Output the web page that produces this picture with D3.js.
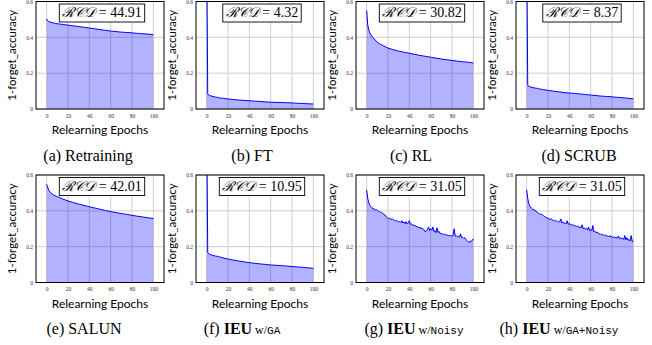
<!DOCTYPE html>
<html>
<head>
<meta charset="utf-8">
<script src="https://cdn.jsdelivr.net/npm/d3@7"></script>
<style>
  body { margin: 0; background: #fff; }
</style>
</head>
<body>
<svg id="chart" width="652" height="345"></svg>
<script>
// sampled epochs for the smooth curves
const epochs = [0, 1, 2, 3, 4, 5, 6, 8, 10, 12, 15, 20, 25, 30, 35, 40, 45, 50, 55, 60, 65, 70, 75, 80, 85, 90, 95, 100];
// every epoch for the noisy curves
const allEpochs = d3.range(0, 101);

const retraining = [0.503, 0.492, 0.488, 0.486, 0.484, 0.482, 0.481, 0.478, 0.476, 0.474, 0.472, 0.468, 0.464, 0.460, 0.456, 0.452, 0.448, 0.443, 0.439, 0.435, 0.432, 0.429, 0.427, 0.425, 0.422, 0.420, 0.418, 0.415];
const ft = [0.95, 0.085, 0.078, 0.075, 0.073, 0.071, 0.070, 0.067, 0.065, 0.062, 0.060, 0.056, 0.053, 0.050, 0.048, 0.046, 0.044, 0.042, 0.040, 0.038, 0.037, 0.036, 0.035, 0.034, 0.032, 0.031, 0.029, 0.028];
const rl = [0.55, 0.47, 0.44, 0.425, 0.415, 0.405, 0.398, 0.385, 0.372, 0.365, 0.355, 0.340, 0.331, 0.323, 0.317, 0.311, 0.305, 0.299, 0.294, 0.289, 0.284, 0.279, 0.275, 0.271, 0.267, 0.264, 0.261, 0.257];
const scrub = [0.95, 0.135, 0.127, 0.124, 0.122, 0.120, 0.119, 0.117, 0.115, 0.112, 0.109, 0.104, 0.100, 0.096, 0.092, 0.089, 0.087, 0.084, 0.081, 0.078, 0.075, 0.072, 0.070, 0.068, 0.065, 0.063, 0.060, 0.057];
const salun = [0.548, 0.53, 0.515, 0.505, 0.50, 0.495, 0.49, 0.484, 0.479, 0.474, 0.466, 0.455, 0.446, 0.438, 0.430, 0.423, 0.416, 0.409, 0.402, 0.396, 0.390, 0.385, 0.380, 0.375, 0.370, 0.366, 0.361, 0.357];
const ieuGA = [0.95, 0.168, 0.160, 0.157, 0.155, 0.153, 0.151, 0.148, 0.146, 0.143, 0.138, 0.131, 0.125, 0.120, 0.115, 0.111, 0.107, 0.104, 0.101, 0.098, 0.096, 0.094, 0.092, 0.089, 0.087, 0.085, 0.082, 0.079];
const ieuNoisy = [
  0.516, 0.47, 0.445, 0.43, 0.425, 0.418, 0.41, 0.412, 0.405, 0.408,
  0.402, 0.398, 0.396, 0.392, 0.39, 0.386, 0.382, 0.377, 0.37, 0.363,
  0.357, 0.36, 0.355, 0.352, 0.356, 0.35, 0.347, 0.343, 0.348, 0.341,
  0.338, 0.342, 0.335, 0.345, 0.332, 0.338, 0.328, 0.34, 0.326, 0.333,
  0.345, 0.325, 0.328, 0.318, 0.322, 0.315, 0.317, 0.31, 0.312, 0.305,
  0.307, 0.302, 0.304, 0.298, 0.292, 0.282, 0.29, 0.295, 0.31, 0.29,
  0.30, 0.292, 0.31, 0.285, 0.29, 0.278, 0.305, 0.28, 0.285, 0.272,
  0.275, 0.268, 0.272, 0.265, 0.27, 0.262, 0.266, 0.26, 0.264, 0.258,
  0.26, 0.263, 0.30, 0.258, 0.262, 0.255, 0.258, 0.254, 0.272, 0.25,
  0.252, 0.246, 0.25, 0.24, 0.235, 0.228, 0.222, 0.232, 0.228, 0.236,
  0.245
];
const ieuGANoisy = [
  0.518, 0.47, 0.44, 0.425, 0.42, 0.412, 0.405, 0.408, 0.40, 0.398,
  0.39, 0.387, 0.384, 0.38, 0.382, 0.376, 0.372, 0.368, 0.365, 0.36,
  0.358, 0.355, 0.352, 0.355, 0.35, 0.346, 0.348, 0.342, 0.345, 0.34,
  0.337, 0.34, 0.355, 0.333, 0.338, 0.33, 0.334, 0.328, 0.345, 0.325,
  0.33, 0.322, 0.326, 0.318, 0.32, 0.315, 0.318, 0.312, 0.315, 0.308,
  0.31, 0.305, 0.322, 0.30, 0.305, 0.298, 0.302, 0.293, 0.31, 0.29,
  0.295, 0.288, 0.318, 0.282, 0.286, 0.278, 0.282, 0.275, 0.27, 0.272,
  0.266, 0.27, 0.264, 0.262, 0.266, 0.258, 0.26, 0.256, 0.262, 0.254,
  0.257, 0.25, 0.256, 0.249, 0.253, 0.247, 0.26, 0.245, 0.25, 0.242,
  0.248, 0.24, 0.262, 0.238, 0.25, 0.236, 0.24, 0.232, 0.262, 0.228,
  0.232
];

const rcdValues = ['44.91', '4.32', '30.82', '8.37', '42.01', '10.95', '31.05', '31.05'];
const letters = ['a', 'b', 'c', 'd', 'e', 'f', 'g', 'h'];
const xTicks = [0, 20, 40, 60, 80, 100];
const yTicks = [0, 0.2, 0.4, 0.6];

const panels = [
  { xs: epochs, ys: retraining, name: 'Retraining' },
  { xs: epochs, ys: ft, name: 'FT' },
  { xs: epochs, ys: rl, name: 'RL' },
  { xs: epochs, ys: scrub, name: 'SCRUB' },
  { xs: epochs, ys: salun, name: 'SALUN' },
  { xs: epochs, ys: ieuGA, ieu: 'GA' },
  { xs: allEpochs, ys: ieuNoisy, ieu: 'Noisy' },
  { xs: allEpochs, ys: ieuGANoisy, ieu: 'GA+Noisy' }
];

const svg = d3.select('#chart');
const plotW = 128, plotH = 107.5;
const rowTop = [1.5, 175];
const colLeft = [36, 196, 356, 516];
const captionX = [[88, 252, 411, 579], [84, 242, 414, 559]];

const x = d3.scaleLinear().domain([-10, 110]).range([0, plotW]);
const y = d3.scaleLinear().domain([0, 0.6]).range([plotH, 0]);

const area = d3.area().x(d => x(d[0])).y0(y(0)).y1(d => y(d[1]));
const line = d3.line().x(d => x(d[0])).y(d => y(d[1]));

panels.forEach((p, i) => {
  const row = Math.floor(i / 4), col = i % 4;
  const g = svg.append('g')
    .attr('transform', `translate(${colLeft[col]},${rowTop[row]})`);

  // grid
  g.append('g').selectAll('line')
    .data(xTicks).enter().append('line')
    .attr('x1', d => x(d)).attr('x2', d => x(d))
    .attr('y1', 0).attr('y2', plotH)
    .attr('stroke', '#cfcfcf').attr('stroke-width', 1);
  g.append('g').selectAll('line')
    .data(yTicks).enter().append('line')
    .attr('x1', 0).attr('x2', plotW)
    .attr('y1', d => y(d)).attr('y2', d => y(d))
    .attr('stroke', '#cfcfcf').attr('stroke-width', 1);

  g.append('clipPath').attr('id', 'clip' + i)
    .append('rect').attr('width', plotW).attr('height', plotH);

  const pts = p.xs.map((e, k) => [e, p.ys[k]]);
  const cg = g.append('g').attr('clip-path', `url(#clip${i})`);
  cg.append('path').datum(pts)
    .attr('d', area)
    .attr('fill', 'rgba(0,0,255,0.3)');
  cg.append('path').datum(pts)
    .attr('d', line)
    .attr('fill', 'none')
    .attr('stroke', '#0000ff')
    .attr('stroke-width', 1)
    .attr('stroke-linejoin', 'round');

  // frame
  g.append('rect')
    .attr('width', plotW).attr('height', plotH)
    .attr('fill', 'none').attr('stroke', '#000').attr('stroke-width', 1);

  // tick labels
  const xAxis = d3.axisBottom(x).tickValues(xTicks).tickSize(0).tickPadding(5);
  const xa = g.append('g').attr('transform', `translate(0,${plotH})`).call(xAxis);
  const yAxis = d3.axisLeft(y).tickValues(yTicks).tickSize(0).tickPadding(3).tickFormat(d => d);
  const ya = g.append('g').call(yAxis);
  [xa, ya].forEach(a => {
    a.select('.domain').remove();
    a.selectAll('text')
      .attr('font-family', 'Liberation Serif, serif')
      .attr('font-size', 5.5)
      .attr('fill', '#333');
  });

  // axis titles
  g.append('text')
    .attr('transform', `translate(-20,${plotH / 2}) rotate(-90)`)
    .attr('text-anchor', 'middle')
    .attr('font-family', 'Lato, sans-serif')
    .attr('font-size', 11.5)
    .text('1-forget_accuracy');
  g.append('text')
    .attr('x', plotW / 2).attr('y', plotH + 25)
    .attr('text-anchor', 'middle')
    .attr('font-family', 'Lato, sans-serif')
    .attr('font-size', 12)
    .text('Relearning Epochs');

  // RCD box
  const lab = g.append('g');
  const t = lab.append('text')
    .attr('x', plotW / 2 + 2).attr('y', 15.5)
    .attr('text-anchor', 'middle')
    .attr('font-family', 'Liberation Serif, serif')
    .attr('font-size', 14);
  t.append('tspan').attr('font-style', 'italic').text('ℛ𝒞𝒟');
  t.append('tspan').text(' = ' + rcdValues[i]);
  const bb = t.node().getBBox();
  lab.insert('rect', 'text')
    .attr('x', bb.x - 3).attr('y', 2.5)
    .attr('width', bb.width + 6).attr('height', 18)
    .attr('fill', '#fff').attr('stroke', '#000').attr('stroke-width', 0.9);

  // caption
  const cap = svg.append('text')
    .attr('x', captionX[row][col])
    .attr('y', row === 0 ? 161 : 334)
    .attr('text-anchor', 'middle')
    .attr('font-family', 'Liberation Serif, serif')
    .attr('font-size', 16);
  if (p.name) {
    cap.text(`(${letters[i]}) ${p.name}`);
  } else {
    cap.append('tspan').text(`(${letters[i]}) `);
    cap.append('tspan').attr('font-weight', 'bold').text('IEU');
    cap.append('tspan').attr('font-size', 12).text(' w/');
    cap.append('tspan').attr('font-family', 'Liberation Mono, monospace')
      .attr('font-size', 11).text(p.ieu);
  }
});
</script>
</body>
</html>
